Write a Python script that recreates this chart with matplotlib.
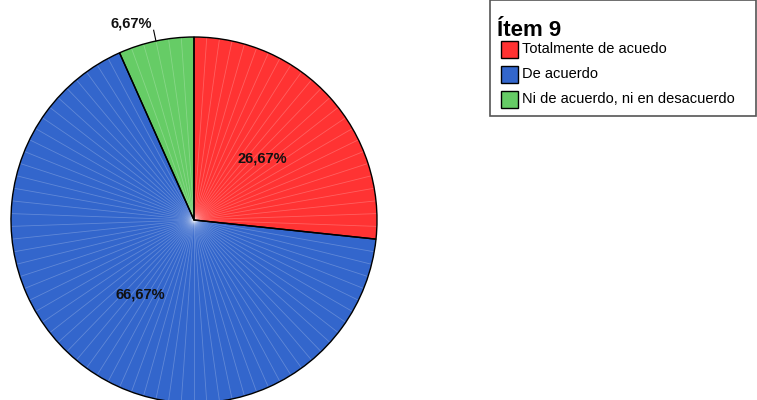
import numpy as np
import matplotlib.pyplot as plt
from matplotlib.patches import Rectangle, Wedge

# Data
categorias = ['Totalmente de acuedo', 'De acuerdo', 'Ni de acuerdo, ni en desacuerdo']
porcentajes = [26.67, 66.67, 6.67]
etiquetas = ['26,67%', '66,67%', '6,67%']
colores = ['#FF3333', '#3366CC', '#66CC66']
titulo = 'Ítem 9'

plt.rcParams['font.family'] = ['Liberation Sans', 'DejaVu Sans']

W, H = 757, 400
fig = plt.figure(figsize=(W / 100, H / 100), dpi=100)
ax = fig.add_axes([0, 0, 1, 1])

cx, cy, r = 194, H - 220, 183

wedges, _ = ax.pie(porcentajes, colors=colores, center=(cx, cy), radius=r,
                   startangle=90, counterclock=False, frame=True,
                   wedgeprops=dict(edgecolor='none', linewidth=0))
ax.set_xlim(0, W)
ax.set_ylim(0, H)
ax.set_aspect('equal')
ax.axis('off')

# faint radial shading lines (SPSS style)
for ang in np.arange(90, 90 - 360, -4.0):
    t = np.deg2rad(ang)
    ax.plot([cx, cx + r * np.cos(t)], [cy, cy + r * np.sin(t)],
            color='white', alpha=0.22, lw=0.6, zorder=1.5)
for w in wedges:
    w.set_zorder(1)
    ax.add_patch(Wedge(w.center, w.r, w.theta1, w.theta2,
                       fill=False, edgecolor='black', lw=1.0, zorder=2))

# labels
for w, lab in zip(wedges, etiquetas):
    t = np.deg2rad((w.theta1 + w.theta2) / 2)
    if w.theta2 - w.theta1 > 36:
        ax.text(cx + 0.5 * r * np.cos(t), cy + 0.5 * r * np.sin(t), lab,
                ha='center', va='center', fontsize=10.5, fontweight='bold',
                color='#111111', zorder=3)
    else:
        ax.plot([cx + r * np.cos(t), cx + 1.06 * r * np.cos(t)],
                [cy + r * np.sin(t), cy + 1.06 * r * np.sin(t)], color='black', lw=0.8)
        ax.text(cx + 1.10 * r * np.cos(t), cy + 1.10 * r * np.sin(t), lab,
                ha='right', va='center', fontsize=10.5, fontweight='bold', color='#111111')

# legend box
ax.add_patch(Rectangle((490, H - 116), 266, 116, fill=False, edgecolor='#555555', lw=1.2))
ax.text(497, H - 31, titulo, fontsize=16, fontweight='bold', va='center', ha='left')
for i, (cat, col) in enumerate(zip(categorias, colores)):
    y = H - (49 + 25 * i)
    ax.add_patch(Rectangle((501, y - 9), 17, 17, facecolor=col, edgecolor='black', lw=1.0))
    ax.text(522, y, cat, fontsize=10.5, va='center', ha='left')

fig.savefig('out.png', dpi=100)
